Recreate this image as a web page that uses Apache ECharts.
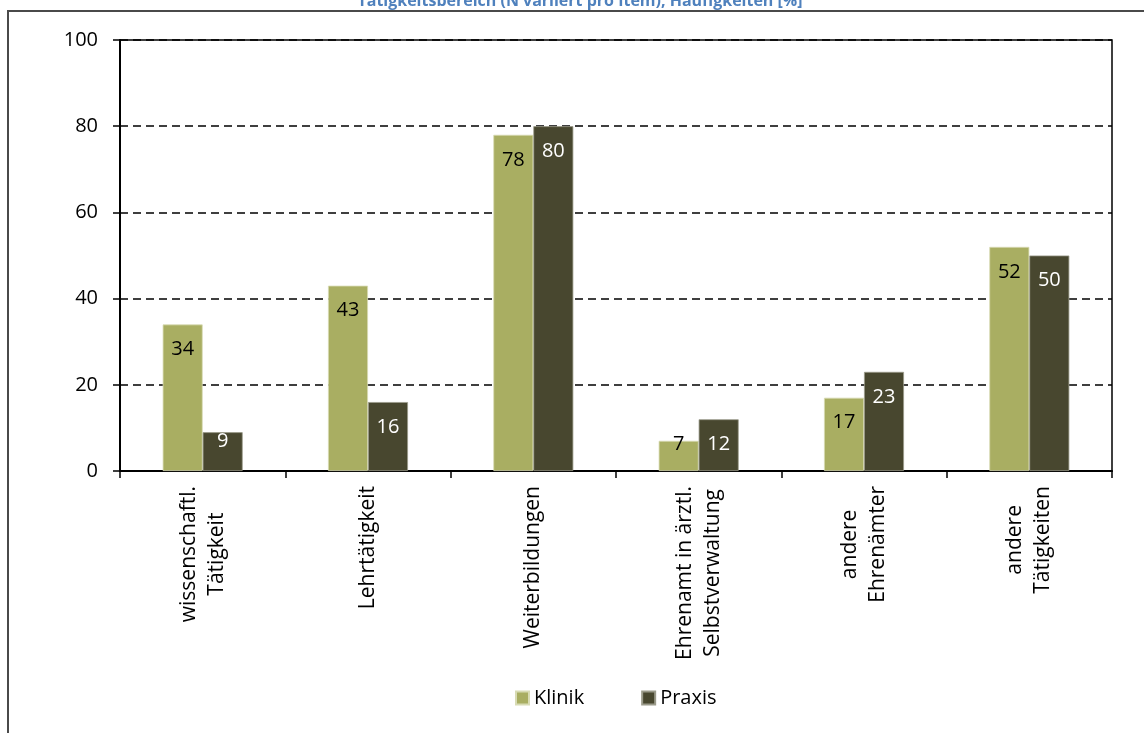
<!DOCTYPE html>
<html>
<head>
<meta charset="utf-8">
<style>
  html, body { margin: 0; padding: 0; background: #fff; }
  #chart { width: 1144px; height: 733px; }
</style>
<script src="https://cdn.jsdelivr.net/npm/echarts@6/dist/echarts.min.js"></script>
</head>
<body>
<div id="chart"></div>
<script>
// Tätigkeitsbereiche, Häufigkeiten in Prozent
const categories = [
  'wissenschaftl.\nTätigkeit',
  'Lehrtätigkeit',
  'Weiterbildungen',
  'Ehrenamt in ärztl.\nSelbstverwaltung',
  'andere\nEhrenämter',
  'andere\nTätigkeiten'
];
const klinik = [34, 43, 78, 7, 17, 52];
const praxis = [9, 16, 80, 12, 23, 50];
const yTicks = [0, 20, 40, 60, 80, 100];
const titleText = 'Tätigkeitsbereich (N variiert pro Item), Häufigkeiten [%]';

const FONT = '"Open Sans", sans-serif';
const FS = 20;
const FS_CAT = 21;

// short bars keep their value label near the top edge
function labelDistance(v) {
  if (v < 8) return -7;
  if (v < 10) return -1;
  return 15;
}
function withLabels(values, color) {
  return values.map(v => ({
    value: v,
    label: { distance: labelDistance(v), color: color }
  }));
}

const chart = echarts.init(document.getElementById('chart'), null, { renderer: 'canvas' });

chart.setOption({
  backgroundColor: '#ffffff',
  animation: false,
  textStyle: { fontFamily: FONT },
  graphic: [
    {
      type: 'rect',
      shape: { x: 8, y: 11, width: 1300, height: 900 },
      style: { fill: 'none', stroke: '#4a4a4a', lineWidth: 2 },
      silent: true
    },
    {
      type: 'text',
      style: {
        x: 580, y: 9,
        text: titleText,
        align: 'center',
        verticalAlign: 'bottom',
        fill: '#4f81bd',
        font: 'bold 16px ' + FONT
      },
      silent: true
    }
  ],
  grid: {
    left: 120, right: 32, top: 40, bottom: 262,
    show: true, borderColor: '#000', borderWidth: 1.5, backgroundColor: 'transparent'
  },
  legend: {
    data: ['Klinik', 'Praxis'],
    left: 515, top: 688,
    padding: 0,
    itemWidth: 13, itemHeight: 13, itemGap: 57,
    icon: 'rect',
    textStyle: { fontSize: FS, color: '#000', fontFamily: FONT }
  },
  xAxis: {
    type: 'category',
    data: categories,
    axisLine: { lineStyle: { color: '#000', width: 2 } },
    axisTick: { show: true, alignWithLabel: false, length: 7, lineStyle: { color: '#000', width: 1.5 } },
    axisLabel: {
      interval: 0,
      rotate: 90,
      margin: 15,
      color: '#000',
      fontSize: FS_CAT,
      fontFamily: FONT,
      lineHeight: 28,
      formatter: v => v.split('\n').map(s => '{c|' + s + '}').join('\n'),
      rich: { c: { align: 'center', fontSize: FS_CAT, fontFamily: FONT, color: '#000', lineHeight: 28 } }
    }
  },
  yAxis: {
    type: 'value',
    min: yTicks[0], max: yTicks[yTicks.length - 1], interval: 20,
    axisLine: { show: true, lineStyle: { color: '#000', width: 2 } },
    axisTick: { show: true, length: 7, lineStyle: { color: '#000', width: 1.5 } },
    axisLabel: { color: '#000', fontSize: FS, fontFamily: FONT, margin: 22 },
    splitLine: { show: true, lineStyle: { color: '#000', type: [8, 5], width: 1.5 } }
  },
  series: [
    {
      name: 'Klinik',
      type: 'bar',
      data: withLabels(klinik, '#000'),
      barWidth: 40,
      barGap: '0%',
      itemStyle: { color: '#a9ae62', borderColor: '#d8dbb4', borderWidth: 0.8 },
      label: { show: true, position: 'insideTop', fontSize: FS, fontFamily: FONT }
    },
    {
      name: 'Praxis',
      type: 'bar',
      data: withLabels(praxis, '#fff'),
      barWidth: 40,
      barGap: '0%',
      itemStyle: { color: '#48472f', borderColor: '#9a9a8a', borderWidth: 0.8 },
      label: { show: true, position: 'insideTop', fontSize: FS, fontFamily: FONT }
    }
  ]
});
</script>
</body>
</html>
